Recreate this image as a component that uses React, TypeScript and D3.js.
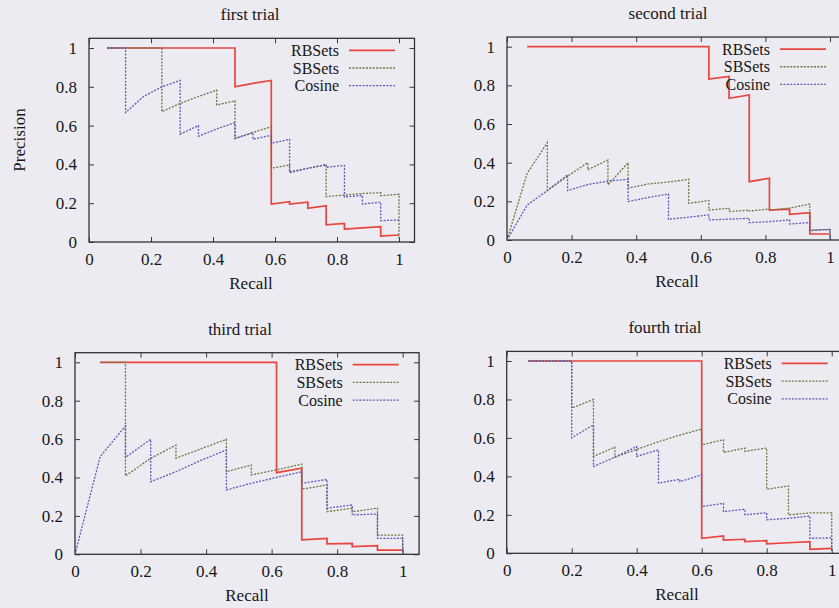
import React, { useEffect, useRef } from 'react';
import * as d3 from 'd3';

type Point = [number, number];

// legend names and panel titles
const methods = ['RBSets', 'SBSets', 'Cosine'];
const trialTitles = ['first trial', 'second trial', 'third trial', 'fourth trial'];
const recallTicks = [0, 0.2, 0.4, 0.6, 0.8, 1];
const precisionTicks = [0, 0.2, 0.4, 0.6, 0.8, 1];

// [recall, precision] points
const firstRBSets: Point[] = [
    [0.059, 1], [0.471, 1], [0.471, 0.8], [0.529, 0.818], [0.588, 0.833], [0.588, 0.196],
    [0.647, 0.208], [0.647, 0.196], [0.706, 0.205], [0.706, 0.174], [0.765, 0.187],
    [0.765, 0.088], [0.824, 0.096], [0.824, 0.067], [0.882, 0.073], [0.941, 0.079],
    [0.941, 0.031], [1, 0.036],
];
const firstSBSets: Point[] = [
    [0.059, 1], [0.235, 1], [0.235, 0.672], [0.294, 0.714], [0.353, 0.75], [0.412, 0.783],
    [0.412, 0.706], [0.471, 0.728], [0.471, 0.534], [0.529, 0.565], [0.588, 0.594],
    [0.588, 0.38], [0.647, 0.397], [0.647, 0.362], [0.706, 0.38], [0.765, 0.397],
    [0.765, 0.234], [0.824, 0.242], [0.882, 0.25], [0.941, 0.254], [0.941, 0.239],
    [1, 0.246], [1, 0.01],
];
const firstCosine: Point[] = [
    [0.059, 1], [0.118, 1], [0.118, 0.667], [0.176, 0.75], [0.235, 0.8], [0.294, 0.833],
    [0.294, 0.556], [0.353, 0.6], [0.353, 0.545], [0.412, 0.583], [0.471, 0.615],
    [0.471, 0.533], [0.529, 0.563], [0.529, 0.53], [0.588, 0.55], [0.588, 0.509],
    [0.647, 0.529], [0.647, 0.357], [0.706, 0.38], [0.765, 0.4], [0.765, 0.385],
    [0.824, 0.395], [0.824, 0.232], [0.882, 0.24], [0.882, 0.196], [0.941, 0.205],
    [0.941, 0.11], [1, 0.113],
];

const secondRBSets: Point[] = [
    [0.0625, 1], [0.625, 1], [0.625, 0.833], [0.6875, 0.846], [0.6875, 0.733], [0.75, 0.75],
    [0.75, 0.302], [0.8125, 0.32], [0.8125, 0.155], [0.875, 0.16], [0.875, 0.133],
    [0.9375, 0.141], [0.9375, 0.031], [1, 0.031],
];
const secondSBSets: Point[] = [
    [0, 0], [0.0625, 0.345], [0.125, 0.504], [0.125, 0.256], [0.1875, 0.33], [0.25, 0.4],
    [0.25, 0.363], [0.3125, 0.414], [0.3125, 0.285], [0.375, 0.4], [0.375, 0.268],
    [0.4375, 0.29], [0.5, 0.3], [0.5625, 0.314], [0.5625, 0.19], [0.625, 0.204],
    [0.625, 0.155], [0.6875, 0.164], [0.6875, 0.147], [0.75, 0.155], [0.75, 0.15],
    [0.8125, 0.16], [0.8125, 0.155], [0.875, 0.165], [0.9375, 0.186], [0.9375, 0.052],
    [1, 0.054], [1, 0.01],
];
const secondCosine: Point[] = [
    [0, 0], [0.0625, 0.181], [0.125, 0.256], [0.1875, 0.337], [0.1875, 0.256], [0.25, 0.287],
    [0.3125, 0.305], [0.375, 0.314], [0.375, 0.199], [0.4375, 0.22], [0.5, 0.238],
    [0.5, 0.107], [0.5625, 0.118], [0.625, 0.13], [0.625, 0.104], [0.6875, 0.108],
    [0.75, 0.112], [0.75, 0.09], [0.8125, 0.095], [0.875, 0.104], [0.875, 0.083],
    [0.9375, 0.09], [0.9375, 0.048], [1, 0.055], [1, 0.005],
];

const thirdRBSets: Point[] = [
    [0.0769, 1], [0.615, 1], [0.615, 0.425], [0.692, 0.448], [0.692, 0.075], [0.769, 0.083],
    [0.769, 0.054], [0.846, 0.057], [0.846, 0.04], [0.923, 0.045], [0.923, 0.022], [1, 0.022],
];
const thirdSBSets: Point[] = [
    [0.0769, 1], [0.154, 1], [0.154, 0.408], [0.231, 0.5], [0.308, 0.569], [0.308, 0.5],
    [0.385, 0.55], [0.462, 0.599], [0.462, 0.43], [0.538, 0.465], [0.538, 0.413],
    [0.615, 0.44], [0.692, 0.47], [0.692, 0.339], [0.769, 0.361], [0.769, 0.222],
    [0.846, 0.24], [0.846, 0.222], [0.923, 0.24], [0.923, 0.1], [1, 0.1], [1, 0.01],
];
const thirdCosine: Point[] = [
    [0, 0], [0.0769, 0.509], [0.154, 0.668], [0.154, 0.505], [0.231, 0.599], [0.231, 0.378],
    [0.308, 0.43], [0.385, 0.49], [0.462, 0.543], [0.462, 0.335], [0.538, 0.37],
    [0.615, 0.4], [0.692, 0.43], [0.692, 0.37], [0.769, 0.39], [0.769, 0.24],
    [0.846, 0.257], [0.846, 0.205], [0.923, 0.21], [0.923, 0.083], [1, 0.083], [1, 0.005],
];

const fourthRBSets: Point[] = [
    [0.0667, 1], [0.6, 1], [0.6, 0.078], [0.667, 0.09], [0.667, 0.069], [0.733, 0.073],
    [0.733, 0.061], [0.8, 0.066], [0.8, 0.049], [0.867, 0.055], [0.933, 0.061],
    [0.933, 0.021], [1, 0.026],
];
const fourthSBSets: Point[] = [
    [0.0667, 1], [0.2, 1], [0.2, 0.755], [0.267, 0.8], [0.267, 0.504], [0.333, 0.552],
    [0.333, 0.5], [0.4, 0.54], [0.467, 0.58], [0.533, 0.615], [0.6, 0.646], [0.6, 0.564],
    [0.667, 0.59], [0.667, 0.524], [0.733, 0.547], [0.733, 0.53], [0.8, 0.547],
    [0.8, 0.333], [0.867, 0.35], [0.867, 0.2], [0.933, 0.21], [1, 0.21], [1, 0.01],
];
const fourthCosine: Point[] = [
    [0.0667, 1], [0.2, 1], [0.2, 0.6], [0.267, 0.668], [0.267, 0.451], [0.333, 0.5],
    [0.4, 0.555], [0.4, 0.504], [0.467, 0.538], [0.467, 0.365], [0.533, 0.385],
    [0.533, 0.373], [0.6, 0.408], [0.6, 0.243], [0.667, 0.26], [0.667, 0.217],
    [0.733, 0.229], [0.733, 0.2], [0.8, 0.211], [0.8, 0.174], [0.867, 0.182],
    [0.933, 0.194], [0.933, 0.078], [1, 0.08], [1, 0.005],
];

const trialCurves = [
    [firstRBSets, firstSBSets, firstCosine],
    [secondRBSets, secondSBSets, secondCosine],
    [thirdRBSets, thirdSBSets, thirdCosine],
    [fourthRBSets, fourthSBSets, fourthCosine],
];

// pixel positions of recall 0 / 1 and precision 0 / 1 for each panel (scan is a bit skewed)
const panels = [
    { x0: 89, x1: 399, y0: 242, y1: 48, titleX: 250, labelX: 251 },
    { x0: 507, x1: 830, y0: 240, y1: 46.7, titleX: 668, labelX: 677 },
    { x0: 75, x1: 402.7, y0: 554.3, y1: 362.3, titleX: 240, labelX: 247 },
    { x0: 506.7, x1: 831.7, y0: 553.3, y1: 361, titleX: 665, labelX: 677 },
];

const lineStyles = [
    { color: '#e8453c', width: 1.7, dash: null },
    { color: '#6f7540', width: 1.3, dash: '2,1.4' },
    { color: '#5a5ab8', width: 1.3, dash: '2,1.4' },
];

const FONT = "'Liberation Serif', 'Times New Roman', serif";
const INK = '#161616';
const W = 839;
const H = 608;

const App = () => {
    const ref = useRef<SVGSVGElement>(null);

    const createAxis = (g, x, y) => {
        const top = y(1.05);
        const right = x(1.05);
        const bottom = y(0);
        const left = x(0);

        const xAxis = d3.axisBottom(x).tickValues(recallTicks).tickSize(-5).tickPadding(11)
            .tickFormat((d) => String(d));
        const yAxis = d3.axisLeft(y).tickValues(precisionTicks).tickSize(-5).tickPadding(12)
            .tickFormat((d) => String(d));
        const xMirror = d3.axisTop(x).tickValues(recallTicks).tickSize(-5).tickFormat(() => '');
        const yMirror = d3.axisRight(y).tickValues(precisionTicks).tickSize(-5).tickFormat(() => '');

        const add = (axis, tx, ty) => {
            const a = g.append('g')
                .attr('transform', `translate(${tx},${ty})`)
                .call(axis);
            a.select('.domain').remove();
            a.selectAll('line').attr('stroke', '#3a3a3a').attr('stroke-width', 1);
            a.selectAll('text')
                .style('font-family', FONT)
                .style('font-size', '17px')
                .attr('fill', INK);
        };
        add(xAxis, 0, bottom);
        add(yAxis, left, 0);
        add(xMirror, 0, top);
        add(yMirror, right, 0);

        g.append('rect')
            .attr('x', left)
            .attr('y', top)
            .attr('width', right - left)
            .attr('height', bottom - top)
            .attr('fill', 'none')
            .attr('stroke', '#333')
            .attr('stroke-width', 1.3);
    };

    const createLines = (g, x, y, curves, idx) => {
        const line = d3.line<Point>()
            .x((d) => x(d[0]))
            .y((d) => y(d[1]));

        g.append('clipPath')
            .attr('id', `clip-${idx}`)
            .append('rect')
            .attr('x', x(0))
            .attr('y', y(1.05))
            .attr('width', x(1.05) - x(0))
            .attr('height', y(0) - y(1.05));

        const lines = g.append('g').attr('clip-path', `url(#clip-${idx})`);
        curves.forEach((pts, i) => {
            const s = lineStyles[i];
            lines.append('path')
                .attr('d', line(pts))
                .attr('fill', 'none')
                .attr('stroke', s.color)
                .attr('stroke-width', s.width)
                .attr('stroke-dasharray', s.dash)
                .attr('stroke-linejoin', 'miter');
        });
    };

    const createLegend = (g, x, y) => {
        const top = y(1.05);
        const lineEnd = x(1) - 4;
        const lineStart = lineEnd - 46;
        methods.forEach((m, i) => {
            const cy = top + 12 + i * 17.7;
            g.append('text')
                .attr('x', lineStart - 10)
                .attr('y', cy)
                .attr('dy', '0.35em')
                .attr('text-anchor', 'end')
                .style('font-family', FONT)
                .style('font-size', '16px')
                .attr('fill', INK)
                .text(m);
            const s = lineStyles[i];
            g.append('line')
                .attr('x1', lineStart)
                .attr('x2', lineEnd)
                .attr('y1', cy)
                .attr('y2', cy)
                .attr('stroke', s.color)
                .attr('stroke-width', s.width)
                .attr('stroke-dasharray', s.dash);
        });
    };

    const createChart = () => {
        const svg = d3.select(ref.current);
        svg.selectAll('*').remove();

        svg.append('rect')
            .attr('width', W)
            .attr('height', H)
            .attr('fill', '#ecebf2');

        panels.forEach((p, idx) => {
            const x = d3.scaleLinear().domain([0, 1]).range([p.x0, p.x1]);
            const y = d3.scaleLinear().domain([0, 1]).range([p.y0, p.y1]);
            const g = svg.append('g').attr('class', 'panel');

            createAxis(g, x, y);
            createLines(g, x, y, trialCurves[idx], idx);
            createLegend(g, x, y);

            // title and x label
            g.append('text')
                .attr('x', p.titleX)
                .attr('y', y(1.05) - 18)
                .attr('text-anchor', 'middle')
                .style('font-family', FONT)
                .style('font-size', '17px')
                .attr('fill', INK)
                .text(trialTitles[idx]);
            g.append('text')
                .attr('x', p.labelX)
                .attr('y', y(0) + 47)
                .attr('text-anchor', 'middle')
                .style('font-family', FONT)
                .style('font-size', '17px')
                .attr('fill', INK)
                .text('Recall');
        });

        // only the first panel carries the y label
        svg.append('text')
            .attr('transform', 'translate(25,140) rotate(-90)')
            .attr('text-anchor', 'middle')
            .style('font-family', FONT)
            .style('font-size', '17px')
            .attr('fill', INK)
            .text('Precision');
    };

    useEffect(() => {
        createChart();
    }, []);

    return (
        <svg
            ref={ref}
            width={W}
            height={H}
            style={{ position: 'absolute', left: 0, top: 0 }}
        />
    );
};

export default App;
